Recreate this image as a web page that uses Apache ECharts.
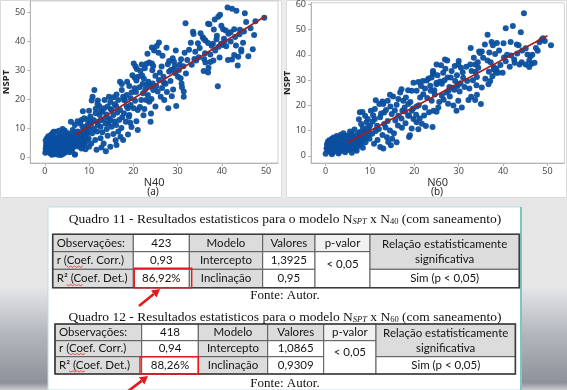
<!DOCTYPE html>
<html><head><meta charset="utf-8">
<script src="https://cdn.jsdelivr.net/npm/echarts@6/dist/echarts.min.js"></script>
<style>html,body{margin:0;padding:0;background:#fff}#c{width:567px;height:390px}</style>
</head><body><div id="c"></div>
<script>
// ---------- chart (a): N40 x NSPT ----------
const pointsA = [
[0.1,1.7],[0.2,3.1],[0.3,4.8],[0.4,2.4],[0.5,4.1],[0.5,6.7],[0.6,3.5],[0.7,5.4],[0.8,2.0],[0.8,7.4],[0.9,3.8],[1.0,4.9],[1.0,2.9],[1.1,6.2],[1.2,1.5],[1.2,3.4],[1.3,5.7],[1.4,4.3],[1.4,7.9],[1.5,2.6],[1.6,3.9],[1.6,6.5],[1.7,4.9],[1.8,1.9],[1.8,8.4],[1.9,3.2],[2.0,5.5],[2.0,4.3],[2.1,1.2],[2.1,7.0],[2.2,2.7],[2.3,3.7],[2.3,6.1],[2.4,4.8],[2.5,2.1],[2.5,8.9],[2.6,5.8],[2.7,3.3],[2.7,4.4],[2.8,6.9],[2.9,2.5],[2.9,5.2],[3.0,1.0],[3.0,3.8],[3.1,6.4],[3.2,4.6],[3.2,2.9],[3.3,7.6],[3.4,1.6],[3.4,5.5],[3.5,3.4],[3.6,4.9],[3.6,6.8],[3.7,2.3],[3.8,4.1],[3.8,8.2],[3.9,5.9],[4.0,3.2],[4.0,1.2],[4.1,4.7],[4.2,7.1],[4.2,2.6],[4.3,5.5],[4.4,3.7],[4.5,6.3],[4.5,9.4],[4.6,4.4],[4.7,2.0],[4.8,5.1],[4.8,7.8],[4.9,3.5],[5.0,6.1],[5.0,4.2],[5.1,8.5],[5.2,2.7],[5.3,5.4],[5.4,3.9],[5.4,7.0],[5.5,4.7],[5.6,6.4],[5.7,3.1],[5.8,8.0],[5.9,5.2],[6.0,4.3],[6.1,6.9],[6.1,2.4],[6.2,5.8],[6.3,7.6],[6.4,3.6],[6.5,4.9],[6.6,6.3],[6.7,8.6],[6.8,1.1],[6.9,5.5],[7.0,7.2],[7.1,3.9],[7.2,6.0],[7.4,8.1],[7.5,4.6],[7.7,6.8],[7.9,5.3],[8.1,7.7],[8.3,3.2],[8.5,6.2],[8.7,9.1],[8.9,4.4],[9.1,7.5],[9.4,5.7],[9.6,8.4],[9.9,6.6],
[0.3,3.9],[0.6,2.2],[0.9,5.9],[1.1,3.0],[1.3,4.6],[1.5,5.2],[1.7,2.9],[1.9,6.3],[2.1,4.0],[2.2,5.1],[2.4,3.0],[2.6,6.6],[2.8,4.0],[3.0,5.0],[3.1,3.5],[3.3,4.2],[3.5,6.0],[3.7,4.5],[3.9,3.0],[4.1,5.9],[4.3,4.0],[4.4,6.8],[4.6,3.3],[4.9,4.7],[5.1,3.6],[5.3,6.6],[5.5,5.9],[5.7,4.5],[5.9,7.3],[6.2,3.3],[6.4,5.1],[6.6,4.4],[6.9,6.7],[7.3,5.2],[7.6,7.5],[8.0,6.4],[8.2,8.8],[8.6,5.0],[9.0,6.3],
[1.6,1.0],[2.4,1.4],[3.6,0.9],[4.4,1.6],[5.6,1.9],[0.2,5.9],[1.0,7.0],[2.0,8.9],[3.2,9.3],[4.0,9.9],
[8.6,16.0],[8.9,13.6],[9.6,11.3],[10.0,10.0],[8.3,13.0],[6.8,11.3],[6.3,9.5],[6.6,8.4],[15.5,14.7],[14.8,13.0],[14.4,11.8],[15.1,10.7],[16.1,11.3],[16.6,9.0],[17.1,7.2],[17.7,6.1],[16.2,4.4],[14.8,3.8],[13.3,4.9],[12.6,6.7],[11.4,6.1],[10.5,4.9],[9.2,2.9],[10.7,8.4],[11.8,9.0],[12.6,10.7],[13.7,11.8],[14.4,13.6],[15.1,16.4],[16.1,17.8],[17.0,16.4],[17.9,15.3],[18.5,17.6],[18.1,19.9],[16.8,13.0],[9.2,6.7],[8.1,6.1],[8.6,4.9],[10.0,3.8],[7.8,3.8],[6.8,1.1],[11.1,10.1],[11.8,12.4],[13.0,15.9],[9.6,8.4],[10.2,12.4],[8.5,10.7],[7.4,9.0],[5.9,12.4],
[17.0,26.2],[17.4,25.4],[18.6,26.2],[19.1,24.7],[17.4,23.3],[17.7,21.0],[17.9,19.9],[16.2,21.8],[16.6,19.9],[15.5,20.8],[14.5,21.0],[14.8,19.2],[13.5,19.9],[12.0,19.7],[12.3,17.8],[11.5,16.9],[11.2,23.3],[10.8,21.0],[10.6,19.7],[12.4,14.7],[13.3,13.2],
[10.3,14.2],[11.0,13.0],[12.0,11.3],[13.0,8.8],[14.0,9.9],[14.2,7.6],[15.5,8.2],[16.0,6.0],[12.8,3.5],[11.7,2.7],[13.8,2.2],[9.0,9.5],[9.8,10.8],[10.5,11.8],[11.5,15.3],[12.6,12.9],[13.9,14.9],[14.9,16.8],[15.8,18.4],[16.4,15.6],[17.5,13.9],[18.3,12.4],[19.0,14.1],[19.6,10.6],[18.8,8.0],[17.3,10.2],[15.7,12.5],[14.2,17.6],[13.4,17.0],[12.7,16.1],[11.9,18.5],[10.0,16.2],[9.5,13.2],[8.0,11.8],[7.4,12.6],[8.4,8.0],[9.4,9.8],
[25.8,39.7],[25.3,38.5],[24.2,38.0],[24.7,36.9],[25.7,36.2],[27.5,37.9],[29.6,36.9],[30.8,33.9],[26.6,35.1],[28.1,33.3],[29.2,33.1],[23.6,32.8],[24.2,32.5],[24.5,31.6],[23.0,32.4],[20.1,32.5],[20.5,31.4],[20.8,30.6],[21.6,29.9],[20.3,27.6],[21.1,27.9],[20.7,26.6],[22.0,28.3],[22.4,27.2],[23.4,26.2],[24.4,25.6],[25.8,26.8],[26.8,27.9],[28.1,29.7],[28.5,30.2],[29.0,30.5],[29.5,29.1],[30.1,27.9],[30.3,30.2],[30.7,27.4],[30.9,25.6],[31.0,24.3],[31.4,22.8],[31.4,21.0],[29.7,17.8],[27.9,17.0],[27.0,19.9],[26.2,21.0],[25.5,22.8],[24.5,23.3],[23.9,24.5],[23.1,25.1],[25.0,17.6],[23.6,19.3],[22.9,19.9],[22.2,22.2],[21.8,19.9],[21.5,17.5],[21.0,16.4],[20.1,17.0],[19.4,18.2],[19.1,14.7],[21.0,9.5],[23.9,12.4],[20.3,23.9],[19.6,22.5],[18.5,21.6],
[19.8,28.4],[21.4,24.3],[22.7,23.6],[23.3,21.6],[24.1,20.2],[25.2,24.6],[26.5,24.0],[27.3,25.5],[28.4,26.4],[29.0,23.5],[28.7,21.2],[27.6,22.6],[26.0,29.4],[25.0,28.2],[24.3,30.1],[22.6,30.8],[21.9,32.1],[20.6,22.6],[19.4,20.5],[18.8,17.0],[20.4,19.6],[22.5,16.8],[24.0,15.2],[22.3,14.6],[20.7,12.6],[19.3,12.0],[26.4,31.4],[27.8,32.2],[28.9,34.3],[29.4,31.6],[30.5,32.1],[31.3,31.5],[31.9,29.0],[32.2,33.7],[31.6,36.2],[26.9,25.9],[23.2,35.8],[22.1,25.4],
[41.3,51.8],[42.3,51.3],[43.3,50.6],[45.2,49.8],[45.5,46.8],[47.3,42.3],[47.0,37.4],[44.8,39.6],[44.4,36.6],[43.7,34.8],[43.6,31.8],[42.3,33.8],[39.1,24.6],[39.2,48.6],[39.6,49.3],[38.4,47.6],[36.9,46.2],[31.8,46.3],[33.5,43.4],[33.6,42.6],[35.2,42.9],[35.9,41.0],[36.3,40.4],[36.9,39.5],[37.4,35.6],[35.9,29.9],[36.9,29.4],[38.0,39.3],[38.5,36.9],[39.8,39.3],[40.3,38.8],[40.6,40.1],[40.3,44.3],[40.9,43.8],[41.5,42.7],[42.0,43.2],[42.8,44.3],[44.1,44.1],[41.4,33.7],[42.8,35.4],[44.4,37.3],[45.0,43.5],[49.6,48.2],[37.7,38.6],[38.8,40.8],[39.3,38.2],[37.4,33.0],[38.1,33.5],[39.5,34.5],[36.3,32.8],[34.6,39.4],[34.2,33.5],[35.7,41.5],[33.2,32.0],[33.8,34.0],[34.8,34.6],[40.5,41.0],[37.2,46.0],[38.2,44.2],[36.2,36.0],
[32.6,37.2],[33.0,39.6],[34.0,36.5],[35.0,37.8],[36.0,34.0],[37.0,31.0],[38.9,42.0],[39.9,45.5],[41.0,38.4],[42.0,40.0],[43.0,41.6],[44.0,42.5],[46.5,44.6],[47.6,47.0],[46.0,35.0],[43.2,38.7]
];
const fitA = [[7,8.0],[50,48.9]];

// ---------- chart (b): N60 x NSPT ----------
const pointsB = [
[0.0,0.8],[0.2,2.9],[0.3,4.6],[0.4,3.5],[0.5,5.6],[0.6,2.1],[0.7,4.0],[0.8,6.2],[0.9,3.1],[1.0,5.0],[1.0,1.6],[1.1,3.8],[1.2,5.9],[1.3,2.5],[1.3,4.4],[1.4,6.8],[1.5,3.3],[1.6,5.3],[1.6,1.2],[1.7,4.1],[1.8,7.3],[1.9,2.8],[1.9,5.7],[2.0,3.6],[2.1,4.7],[2.2,6.4],[2.2,1.9],[2.3,3.1],[2.4,5.2],[2.5,7.8],[2.5,4.0],[2.6,2.4],[2.7,6.0],[2.8,3.4],[2.8,4.9],[2.9,7.1],[3.0,1.5],[3.0,5.6],[3.1,3.9],[3.2,2.8],[3.2,6.7],[3.3,4.5],[3.4,8.3],[3.5,3.2],[3.5,5.3],[3.6,2.0],[3.7,6.2],[3.7,4.1],[3.8,7.4],[3.9,3.0],[4.0,5.0],[4.0,8.9],[4.1,3.7],[4.2,6.0],[4.3,2.5],[4.3,4.6],[4.4,7.0],[4.5,3.4],[4.6,5.5],[4.7,8.0],[4.8,4.2],[4.8,2.9],[4.9,6.5],[5.0,3.8],[5.1,5.1],[5.2,7.6],[5.3,2.3],[5.4,4.5],[5.5,6.1],[5.6,3.3],[5.7,5.7],[5.8,8.6],[5.9,4.2],[6.0,6.8],[6.1,3.0],[6.2,5.2],[6.3,7.4],[6.4,4.0],[6.6,6.0],[6.7,2.4],[6.8,4.9],[6.9,8.2],[7.0,5.7],[7.2,3.6],[7.3,7.0],[7.5,4.6],[7.6,9.2],[7.8,6.4],[8.0,5.0],[8.2,8.0],[8.4,3.2],[8.6,6.8],[8.8,9.8],[9.1,7.3],[9.4,11.0],[9.7,8.4],[5.5,9.6],[6.5,10.4],[4.4,1.4],[2.9,0.9],[1.4,0.6],[5.9,1.2],[7.0,2.0],
[0.5,3.0],[0.8,4.6],[1.1,2.6],[1.2,4.9],[1.5,4.3],[1.7,2.0],[1.8,3.6],[2.0,5.1],[2.1,2.7],[2.3,4.3],[2.4,6.9],[2.6,3.8],[2.7,5.1],[2.9,4.3],[3.0,3.0],[3.1,4.9],[3.3,3.6],[3.4,5.9],[3.6,4.6],[3.8,3.5],[3.9,5.5],[4.1,4.3],[4.2,2.9],[4.4,5.2],[4.5,6.4],[4.7,3.9],[4.9,4.8],[5.0,6.9],[5.2,4.0],[5.4,5.8],[5.6,4.9],[5.8,3.7],[6.0,5.4],[6.3,4.5],[6.5,6.5],[6.8,5.5],[7.1,6.2],[7.4,5.3],[7.9,7.5],[8.3,6.0],
[20.5,25.8],[19.4,25.8],[18.6,26.0],[17.1,26.4],[16.8,25.1],[16.4,22.5],[17.5,21.8],[18.1,23.1],[18.6,20.5],[17.3,17.9],[16.4,15.9],[14.9,16.6],[14.0,21.8],[13.0,20.5],[12.1,20.5],[11.1,18.6],[10.2,17.9],[8.9,15.9],[7.7,17.3],[9.2,13.3],[10.0,12.0],[11.1,14.6],[12.3,15.3],[12.3,3.5],[13.0,2.9],[14.1,5.5],
[21.9,29.7],[21.5,27.7],[20.9,29.3],[19.8,29.0],[22.8,29.9],[23.2,30.7],[24.2,33.6],[24.2,32.5],
[13.5,11.2],[14.5,10.0],[15.4,8.9],[16.3,12.0],[17.2,11.1],[18.0,12.9],[15.7,14.0],[14.0,13.8],[13.2,12.6],[12.0,10.6],[11.3,9.8],[10.5,8.7],[9.7,10.5],[9.0,8.9],[8.4,11.0],[8.0,12.6],[9.5,14.6],[10.6,13.6],[12.8,8.2],[13.8,7.4],[15.0,6.8],[16.0,5.4],[14.7,4.2],[11.7,6.3],[10.9,4.8],[12.5,16.8],[13.6,18.2],[14.6,19.5],[15.6,18.0],[16.0,20.2],[17.8,19.2],[19.1,21.3],[19.7,18.8],[20.4,16.3],[21.2,14.8],[18.6,16.0],[17.1,14.8],[19.4,10.8],[20.9,10.5],[22.6,11.8],[22.2,16.0],[21.0,20.0],[11.3,22.0],[12.8,21.5],[15.2,23.5],[14.5,24.2],[13.2,17.2],[9.0,5.4],[8.1,7.5],[7.7,9.3],[9.9,6.8],[11.6,11.9],[10.7,16.1],[7.5,14.5],[8.3,17.4],
[18.8,7.5],[19.0,8.1],[24.1,11.4],[21.7,12.7],[20.5,13.3],[19.8,14.6],[17.9,17.6],[18.8,15.9],[19.4,17.9],[20.5,19.5],[22.4,19.2],[23.3,17.3],[24.3,17.9],[25.0,17.5],[25.4,19.2],[23.9,21.8],[22.9,22.9],[22.0,24.4],[21.3,23.1],[24.5,26.0],[23.7,25.8],[25.0,28.4],[26.2,23.8],[27.2,25.1],[27.7,25.8],[27.5,31.0],[28.2,31.0],[29.2,29.7],[29.7,27.7],[29.9,28.4],[30.5,34.9],[29.9,36.2],[26.9,38.2],[27.4,37.8],[26.0,35.9],[25.0,36.2],[24.3,32.9],[23.9,31.0],[25.0,29.0],[26.2,28.6],
[25.8,29.5],[26.8,30.0],[27.9,27.3],[28.6,27.0],[29.0,26.2],[30.2,25.5],[31.3,27.3],[30.4,28.8],[31.0,30.9],[31.9,29.7],[32.4,26.7],[28.0,23.5],[26.6,22.2],[27.6,20.6],[25.6,21.3],[24.6,24.3],[23.6,27.8],[22.4,26.7],[25.2,31.9],[26.5,32.9],[27.0,34.5],[28.4,33.6],[29.6,31.9],[30.9,33.1],[33.2,30.0],[34.0,28.0],[36.0,30.6],[37.6,31.5],[38.5,34.5],[39.4,36.0],[40.2,39.0],[41.8,39.8],[43.2,40.6],[44.3,41.8],[45.1,42.6],[45.5,40.2],[44.2,37.1],[43.7,36.2],[41.5,35.3],[39.1,41.8],[38.2,40.4],[36.9,41.0],[35.5,38.9],[34.3,37.1],[33.4,38.9],[31.7,35.3],[30.0,37.6],[29.1,35.6],[48.2,45.0],[49.4,45.5],
[38.4,32.9],[38.9,32.9],[37.9,35.2],[37.9,34.2],[36.8,33.3],[37.1,29.7],[36.7,28.4],[33.8,33.2],[34.1,31.2],[34.4,34.9],[33.7,36.2],[32.9,33.6],[32.6,36.2],[34.8,40.8],
[44.7,56.5],[40.6,50.6],[42.2,51.5],[44.0,49.0],[36.5,48.0],[41.7,45.1],[43.1,44.1],[43.5,43.8],[40.1,44.6],[38.6,44.7],[37.4,45.1],[37.7,43.8],[35.9,44.1],[35.2,41.4],[32.7,42.7],[34.6,41.4],[48.7,46.0],[49.0,46.6],[50.8,43.8],[47.4,42.7],[47.8,41.7],[46.6,40.1],[46.2,39.5],[45.9,37.8],[45.1,36.2],[45.9,35.2],[46.4,36.5],[47.1,36.9],[42.5,38.2],[42.6,36.9],[40.9,40.1],[40.6,37.5],[39.9,32.9],[37.2,37.1],[36.5,37.8],[35.2,27.1],[35.0,20.5],[33.7,22.1],[34.1,24.2],[32.8,23.4],[32.2,22.1],[29.9,21.8],[30.7,19.2],[29.5,17.9],[28.8,19.9]
];
const fitB = [[5,5.3],[50,47.6]];

const xTicks = [0,10,20,30,40,50];
const yTicksA = [0,10,20,30,40,50];
const yTicksB = [0,10,20,30,40,50,60];
const xNameA = 'N40', xNameB = 'N60', yName = 'NSPT';
const captionA = '(a)', captionB = '(b)';

// ---------- tables ----------
const t1Title = ['Quadro 11 - Resultados estatisticos para o modelo N', 'SPT', ' x N', '40', ' (com saneamento)'];
const t1Labels = ['Observações:', 'r (Coef. Corr.)', 'R² (Coef. Det.)'];
const t1Stats = ['423', '0,93', '86,92%'];
const t1Model = ['Modelo', 'Intercepto', 'Inclinação'];
const t1Values = ['Valores', '1,3925', '0,95'];
const t1P = ['p-valor', '< 0,05'];
const t1Rel = ['Relação estatisticamente', 'significativa', 'Sim (p < 0,05)'];
const t2Title = ['Quadro 12 - Resultados estatisticos para o modelo N', 'SPT', ' x N', '60', ' (com saneamento)'];
const t2Labels = ['Observações:', 'r (Coef. Corr.)', 'R² (Coef. Det.)'];
const t2Stats = ['418', '0,94', '88,26%'];
const t2Model = ['Modelo', 'Intercepto', 'Inclinação'];
const t2Values = ['Valores', '1,0865', '0,9309'];
const t2P = ['p-valor', '< 0,05'];
const t2Rel = ['Relação estatisticamente', 'significativa', 'Sim (p < 0,05)'];
const sourceText = 'Fonte: Autor.';

// ---------- layout ----------
const GREY = '#dcdcdc', WHITE = '#ffffff', LIGHT = '#f1f1f1';
const CELL_FONT = '11.5px Lato';
const SERIF = '"Liberation Serif", serif';

function table(d, g) {
  const C = g.cols, R = g.rows, els = [];
  const cells = [
    [0,1,0,1,d.labels[0],GREY,'left'],[0,1,1,2,d.labels[1],GREY,'left'],[0,1,2,3,d.labels[2],GREY,'left'],
    [1,2,0,1,d.stats[0],WHITE],[1,2,1,2,d.stats[1],WHITE],[1,2,2,3,d.stats[2],WHITE],
    [2,3,0,1,d.model[0],GREY],[2,3,1,2,d.model[1],GREY],[2,3,2,3,d.model[2],GREY],
    [3,4,0,1,d.values[0],GREY],[3,4,1,2,d.values[1],WHITE],[3,4,2,3,d.values[2],WHITE],
    [4,5,0,1,d.p[0],LIGHT],[4,5,1,3,d.p[1],WHITE,'center',-5],
    [5,6,0,2,d.rel[0]+'\n'+d.rel[1],GREY],[5,6,2,3,d.rel[2],WHITE]
  ];
  cells.forEach(c => {
    const [c0,c1,r0,r1,text,fill,align,dy] = c;
    els.push({type:'rect', shape:{x:C[c0],y:R[r0],width:C[c1]-C[c0],height:R[r1]-R[r0]},
      style:{fill:fill, stroke:'#5c5c5c', lineWidth:1}});
    els.push({type:'text', x: align==='left' ? C[c0]+4 : (C[c0]+C[c1])/2, y:(R[r0]+R[r1])/2 + (dy||0),
      style:{text:text, font:CELL_FONT, fill:'#141414', align:align||'center', verticalAlign:'middle', lineHeight:15}});
  });
  els.push({type:'rect', shape:{x:C[0],y:R[0],width:C[6]-C[0],height:R[3]-R[0]},
    style:{fill:'none', stroke:'#3c3c3c', lineWidth:1.6}});
  // spell-check squiggles under "Coef."
  [1,2].forEach(r => {
    const x0 = C[0]+14, y0 = R[r+1]-3, pts = [];
    for (let i = 0; i <= 8; i++) pts.push([x0 + i*2, y0 + (i%2 ? 1 : -0.2)]);
    els.push({type:'polyline', shape:{points:pts}, style:{stroke:'#d33', lineWidth:0.8, fill:null}});
  });
  // title
  els.push({type:'text', x:285, y:g.titleY, style:{
    text:'{t|'+d.title[0]+'}{s|'+d.title[1]+'}{t|'+d.title[2]+'}{n|'+d.title[3]+'}{t|'+d.title[4]+'}',
    align:'center', verticalAlign:'middle',
    rich:{t:{font:'13.5px '+SERIF, fill:'#111', verticalAlign:'bottom', lineHeight:16},
          s:{font:'italic 8.5px '+SERIF, fill:'#111', verticalAlign:'bottom', lineHeight:8},
          n:{font:'8.5px '+SERIF, fill:'#111', verticalAlign:'bottom', lineHeight:8}}}});
  els.push({type:'text', x:285, y:g.sourceY, style:{text:d.source, font:'13px '+SERIF, fill:'#111', align:'center', verticalAlign:'middle'}});
  // red highlight box
  els.push({type:'rect', shape:{x:g.box[0],y:g.box[1],width:g.box[2],height:g.box[3]}, style:{fill:'none', stroke:'#e3191c', lineWidth:1.4}});
  // arrow
  const [t0, t1] = g.arrow;
  const dx = t1[0]-t0[0], dyy = t1[1]-t0[1], L = Math.hypot(dx,dyy), ux = dx/L, uy = dyy/L;
  const bx = t1[0]-ux*8, by = t1[1]-uy*8;
  els.push({type:'line', shape:{x1:t0[0],y1:t0[1],x2:bx,y2:by}, style:{stroke:'#e3191c', lineWidth:2.6}});
  els.push({type:'polygon', shape:{points:[[t1[0],t1[1]],[bx-uy*4.5,by+ux*4.5],[bx+uy*4.5,by-ux*4.5]]}, style:{fill:'#e3191c'}});
  return els;
}

const g1 = {cols:[52.7,133.3,189.3,262.7,315,370,519.3], rows:[234.3,251.7,269.3,287.7], titleY:218, sourceY:295.5,
  box:[134.3,268.3,57.4,19.4], arrow:[[139,306],[160,289]]};
const g2 = {cols:[55,141.7,198.3,267.7,323.7,376,515.4], rows:[324,340.7,356.7,374], titleY:316, sourceY:383.5,
  box:[140,356.7,58.3,17.3], arrow:[[127,392],[148,376]]};

const graphics = [
  // backgrounds
  {type:'rect', z:-10, shape:{x:0,y:198,width:567,height:192}, style:{fill:'#e6e6e6'}},
  {type:'rect', z:-9, shape:{x:0,y:288,width:48,height:102}, style:{fill:new echarts.graphic.LinearGradient(0,0,0,1,[
    {offset:0,color:'#e4e5e7'},{offset:0.45,color:'#b3b7bd'},{offset:0.93,color:'#8d929a'},{offset:1,color:'#c9cbce'}])}},
  {type:'rect', z:-9, shape:{x:521,y:288,width:46,height:102}, style:{fill:new echarts.graphic.LinearGradient(0,0,0,1,[
    {offset:0,color:'#e4e5e7'},{offset:0.45,color:'#b3b7bd'},{offset:0.93,color:'#8d929a'},{offset:1,color:'#c9cbce'}])}},
  {type:'rect', z:-8, shape:{x:48,y:207,width:473,height:183}, style:{fill:'#ffffff', stroke:'#b5e0e0', lineWidth:1}},
  {type:'line', z:-7, shape:{x1:521,y1:207,x2:521,y2:390}, style:{stroke:'#7cc6c6', lineWidth:2}},
  {type:'rect', z:-8, shape:{x:282,y:0,width:4,height:198}, style:{fill:'#ececec'}},
  {type:'rect', z:-8, shape:{x:0.5,y:0.5,width:281,height:197}, style:{fill:'none', stroke:'#dadada', lineWidth:1}},
  {type:'rect', z:-8, shape:{x:286.5,y:0.5,width:280,height:197}, style:{fill:'none', stroke:'#dadada', lineWidth:1}},
  {type:'text', x:153, y:192, style:{text:captionA, font:'10px "Noto Sans"', fill:'#222', align:'center', verticalAlign:'middle'}},
  {type:'text', x:437, y:192, style:{text:captionB, font:'10px "Noto Sans"', fill:'#222', align:'center', verticalAlign:'middle'}}
].concat(
  table({title:t1Title, labels:t1Labels, stats:t1Stats, model:t1Model, values:t1Values, p:t1P, rel:t1Rel, source:sourceText}, g1),
  table({title:t2Title, labels:t2Labels, stats:t2Stats, model:t2Model, values:t2Values, p:t2P, rel:t2Rel, source:sourceText}, g2)
);

function xAx(idx, min, max, name) {
  return {type:'value', gridIndex:idx, min:min, max:max, name:name, nameLocation:'middle', nameGap:12,
    nameTextStyle:{fontFamily:'Noto Sans', fontSize:11, color:'#333'},
    axisLine:{onZero:false, lineStyle:{color:'#b4b4b4'}},
    axisTick:{show:true, customValues:xTicks, length:3, lineStyle:{color:'#b4b4b4'}},
    axisLabel:{customValues:xTicks, fontFamily:'Noto Sans', fontSize:9, color:'#4d4d4d', margin:4},
    splitLine:{show:false}};
}
function yAx(idx, min, max, ticks) {
  return {type:'value', gridIndex:idx, min:min, max:max, name:yName, nameLocation:'middle', nameGap:12,
    nameTextStyle:{fontFamily:'Noto Sans', fontSize:9.5, fontWeight:'bold', color:'#222'},
    axisLine:{show:true, onZero:false, lineStyle:{color:'#b4b4b4'}},
    axisTick:{show:true, customValues:ticks, length:3, lineStyle:{color:'#b4b4b4'}},
    axisLabel:{customValues:ticks, fontFamily:'Noto Sans', fontSize:9, color:'#4d4d4d', margin:5},
    splitLine:{show:false}};
}

const chart = echarts.init(document.getElementById('c'), null, {renderer:'canvas'});
chart.setOption({
  animation:false,
  backgroundColor:'#ffffff',
  grid:[
    {left:25, top:1, width:253, height:162, show:true, borderColor:'#cfcfcf', borderWidth:1, backgroundColor:'#fff'},
    {left:311, top:1, width:253.3, height:162, show:true, borderColor:'#cfcfcf', borderWidth:1, backgroundColor:'#fff'}
  ],
  xAxis:[xAx(0,-3.3,52.7,xNameA), xAx(1,-3.3,53.8,xNameB)],
  yAxis:[yAx(0,-1.83,54.0,yTicksA), yAx(1,-2.86,60.7,yTicksB)],
  series:[
    {type:'scatter', xAxisIndex:0, yAxisIndex:0, data:pointsA, symbolSize:6, itemStyle:{color:'#0b4f9f', opacity:0.95}},
    {type:'line', xAxisIndex:0, yAxisIndex:0, data:fitA, symbol:'none', lineStyle:{color:'#a51d1d', width:1.6}, z:3},
    {type:'scatter', xAxisIndex:1, yAxisIndex:1, data:pointsB, symbolSize:6, itemStyle:{color:'#0b4f9f', opacity:0.95}},
    {type:'line', xAxisIndex:1, yAxisIndex:1, data:fitB, symbol:'none', lineStyle:{color:'#a51d1d', width:1.6}, z:3}
  ],
  graphic:graphics
});
</script></body></html>
